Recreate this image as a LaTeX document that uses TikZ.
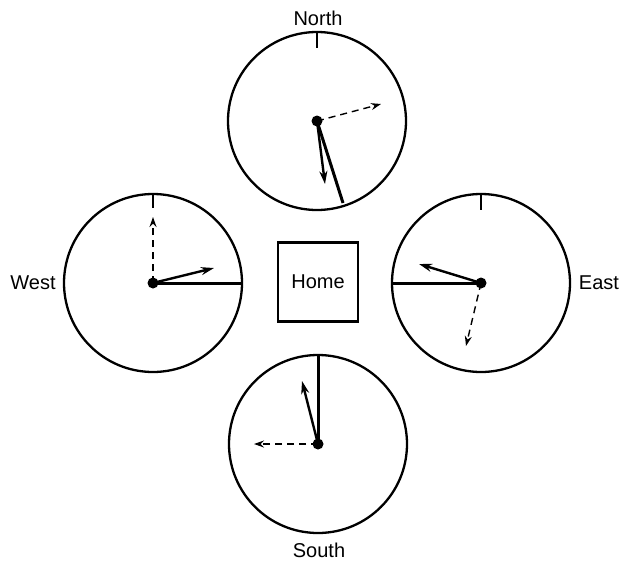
\documentclass[tikz,border=0pt]{standalone}
\usepackage{fontspec}
\setmainfont{Liberation Sans}
\usetikzlibrary{arrows.meta}
\begin{document}
\begin{tikzpicture}[x=1pt,y=-1pt,
  dial/.style={draw,circle,line width=2.3pt,minimum size=178pt,inner sep=0pt},
  hub/.style={fill,circle,minimum size=11pt,inner sep=0pt},
  bigline/.style={line width=3pt},
  solidarrow/.style={line width=2.4pt,-{Stealth[length=13pt,width=8pt]}},
  dasharrow/.style={line width=1.4pt,dash pattern=on 7pt off 5pt,-{Stealth[length=10pt,width=7pt]}},
  tick/.style={line width=1.6pt},
  lbl/.style={font=\fontsize{20}{22}\selectfont},
  homebox/.style={draw,line width=2.4pt,minimum width=80pt,minimum height=79pt,inner sep=0pt}]
\useasboundingbox (0,0) rectangle (621,563);
% centers
\coordinate (cn) at (317,121);
\coordinate (cw) at (153,283);
\coordinate (ce) at (481,283);
\coordinate (cs) at (318,444);
% dials
\node[dial] (dn) at (cn) {};
\node[dial] (dw) at (cw) {};
\node[dial] (de) at (ce) {};
\node[dial] (ds) at (cs) {};
% home
\node[homebox,lbl] (home) at (318,282) {Home};
% labels
\node[lbl] (ln) at (318,18) {North};
\node[lbl] (lw) at (33,283) {West};
\node[lbl] (le) at (599,283) {East};
\node[lbl] (ls) at (319,550) {South};
% ticks
\coordinate (tn) at (317,48);
\coordinate (tw) at (153,208);
\coordinate (te) at (481,210);
\draw[tick] (dn.north) -- (tn);
\draw[tick] (dw.north) -- (tw);
\draw[tick] (de.north) -- (te);
% North hands
\coordinate (n1) at (343,203);
\coordinate (n2) at (325,184);
\coordinate (n3) at (381,104);
\draw[bigline] (cn) -- (n1);
\draw[solidarrow] (cn) -- (n2);
\draw[dasharrow] (cn) -- (n3);
% West hands
\coordinate (w2) at (214,268);
\coordinate (w3) at (153,217);
\draw[bigline] (cw) -- (dw.east);
\draw[solidarrow] (cw) -- (w2);
\draw[dasharrow] (cw) -- (w3);
% East hands
\coordinate (e2) at (419,264);
\coordinate (e3) at (466,346);
\draw[bigline] (ce) -- (de.west);
\draw[solidarrow] (ce) -- (e2);
\draw[dasharrow] (ce) -- (e3);
% South hands
\coordinate (s2) at (302,381);
\coordinate (s3) at (254,444);
\draw[bigline] (cs) -- (ds.north);
\draw[solidarrow] (cs) -- (s2);
\draw[dasharrow] (cs) -- (s3);
% hubs
\node[hub] (hn) at (cn) {};
\node[hub] (hw) at (cw) {};
\node[hub] (he) at (ce) {};
\node[hub] (hs) at (cs) {};
\end{tikzpicture}
\end{document}
